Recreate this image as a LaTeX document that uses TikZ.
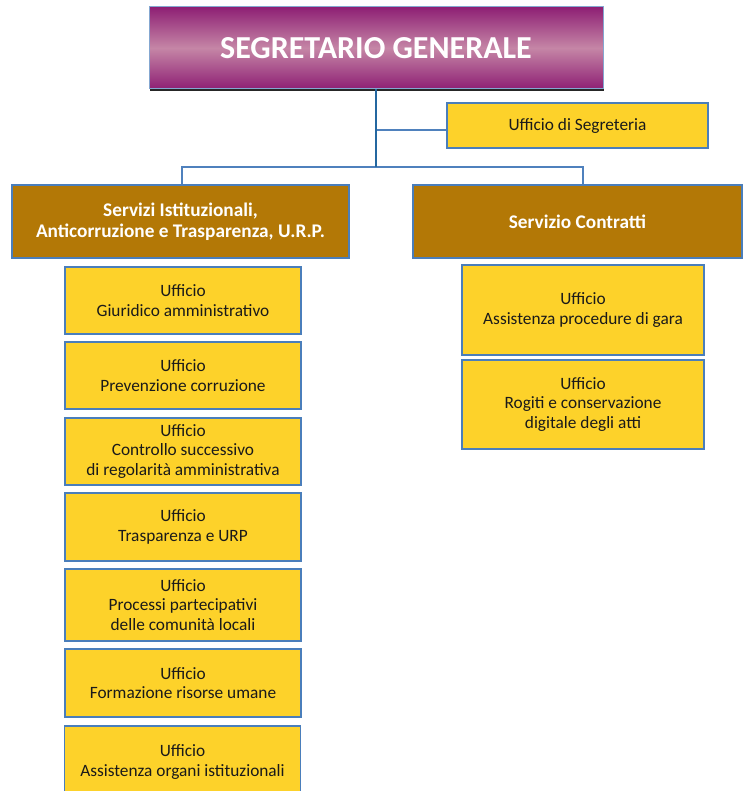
\documentclass[tikz,border=0pt]{standalone}
\usepackage{fontspec}
\setmainfont{Carlito}
\usetikzlibrary{shadows}
\definecolor{trunk}{HTML}{2467A0}
\definecolor{branch}{HTML}{4F81BD}
\definecolor{edge}{HTML}{4A7EBB}
\definecolor{gold}{HTML}{FDD22A}
\definecolor{bronze}{HTML}{B37806}
\definecolor{plumdark}{HTML}{8E1F74}
\definecolor{plumlight}{HTML}{C586A6}
\definecolor{ink}{HTML}{1A1A1A}
\tikzset{
  office/.style={draw=edge, line width=1.2pt, fill=gold, align=center, text=ink,
    font=\fontsize{17.3}{19.5}\selectfont, inner sep=0pt},
  service/.style={draw=edge, line width=1.2pt, fill=bronze, align=center, text=white,
    font=\fontsize{19.3}{21}\selectfont\bfseries, inner sep=0pt},
  head/.style={draw=branch!70!white, line width=1pt, top color=plumdark, bottom color=plumdark,
    middle color=plumlight, text=white, font=\fontsize{32}{36}\selectfont\bfseries,
    inner sep=0pt, drop shadow={shadow xshift=1pt, shadow yshift=-2.5pt, fill=black!85, opacity=1}},
  trunkline/.style={draw=trunk, line width=2.6pt},
  branchline/.style={draw=branch, line width=2.6pt},
}
\begin{document}
\begin{tikzpicture}[x=1pt, y=-1pt]
\useasboundingbox (0,0) rectangle (742,791);
\fill[white] (0,0) rectangle (742,791);

% head of the organisation
\node[head, minimum width=454pt, minimum height=82pt] (sg) at (376,48) {SEGRETARIO GENERALE};
\node[office, minimum width=261pt, minimum height=45pt] (seg) at (577.5,125.5) {Ufficio di Segreteria};

% the two services
\node[service, minimum width=337pt, minimum height=73pt] (lb) at (180.5,221.5)
  {Servizi Istituzionali,\\Anticorruzione e Trasparenza, U.R.P.};
\node[service, minimum width=329pt, minimum height=73pt] (rb) at (577.5,221.5) {Servizio Contratti};

% offices of the first service
\node[office, minimum width=236pt, minimum height=67pt] (l1) at (183,300.5) {Ufficio\\Giuridico amministrativo};
\node[office, minimum width=236pt, minimum height=67pt] (l2) at (183,375.5) {Ufficio\\Prevenzione corruzione};
\node[office, minimum width=236pt, minimum height=67pt] (l3) at (183,451.5) {Ufficio\\Controllo successivo\\di regolarità amministrativa};
\node[office, minimum width=236pt, minimum height=68pt] (l4) at (183,527) {Ufficio\\Trasparenza e URP};
\node[office, minimum width=236pt, minimum height=72pt] (l5) at (183,605) {Ufficio\\Processi partecipativi\\delle comunità locali};
\node[office, minimum width=236pt, minimum height=68pt] (l6) at (183,683) {Ufficio\\Formazione risorse umane};
\node[office, minimum width=236pt, minimum height=72pt] (l7) at (182.5,762) {Ufficio\\Assistenza organi istituzionali};

% offices of the second service
\node[office, minimum width=242pt, minimum height=90pt] (r1) at (583,310) {Ufficio\\Assistenza procedure di gara};
\node[office, minimum width=242pt, minimum height=89pt] (r2) at (583,404.5) {Ufficio\\Rogiti e conservazione\\digitale degli atti};

% connectors
\coordinate (hub) at (376,167);
\coordinate (segjoin) at (376,130);
\draw[branchline] (segjoin) -- (segjoin -| seg.west);
\draw[branchline] ([xshift=1.5pt]lb.north) |- (hub) -| ([xshift=5.5pt]rb.north);
\draw[trunkline] (sg.south) -- (hub);
\end{tikzpicture}
\end{document}
